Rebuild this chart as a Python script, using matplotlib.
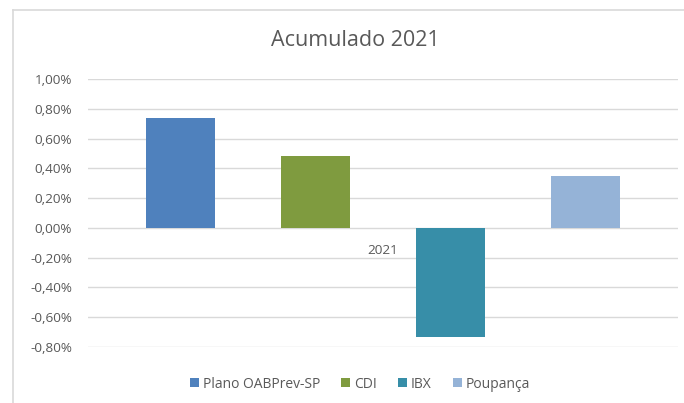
import matplotlib
matplotlib.use("Agg")
import matplotlib.pyplot as plt
from matplotlib.lines import Line2D
from matplotlib.patches import Patch
from matplotlib.ticker import FuncFormatter

title = "Acumulado 2021"
category = "2021"
series = ["Plano OABPrev-SP", "CDI", "IBX", "Poupança"]
values = [0.74, 0.48, -0.73, 0.35]  # percent
colors = ["#4F81BD", "#7F9B3F", "#378EA8", "#95B3D7"]
yticks = [-0.8, -0.6, -0.4, -0.2, 0.0, 0.2, 0.4, 0.6, 0.8, 1.0]

plt.rcParams["font.family"] = ["Open Sans", "DejaVu Sans"]
W, H = 684, 403
fig = plt.figure(figsize=(W / 100, H / 100), dpi=100)
fig.patch.set_facecolor("white")

# chart border (top and left visible)
fig.add_artist(Line2D([12.5 / W, 12.5 / W], [0, 1 - 9.5 / H], transform=fig.transFigure,
                      color="#D9D9D9", lw=1.2))
fig.add_artist(Line2D([12.5 / W, 1], [1 - 9.5 / H, 1 - 9.5 / H], transform=fig.transFigure,
                      color="#D9D9D9", lw=1.2))

ax = fig.add_axes([88 / W, 1 - 347 / H, (678 - 88) / W, (347 - 79) / H])
ax.set_facecolor("none")
offsets = [-1.5, -0.5, 0.5, 1.5]
for off, v, c, s in zip(offsets, values, colors, series):
    ax.bar(off, v, width=0.51, color=c, label=s, zorder=3)

ax.set_xlim(-2.185, 2.185)
ax.set_ylim(min(yticks), max(yticks))
ax.set_yticks(yticks)
ax.yaxis.set_major_formatter(FuncFormatter(lambda v, p: f"{v:.2f}%".replace(".", ",")))
ax.tick_params(axis="y", length=0, labelsize=9.7, labelcolor="#595959", pad=11.5)
ax.set_xticks([])
for sp in ax.spines.values():
    sp.set_visible(False)
ax.grid(axis="y", color="#D9D9D9", lw=1, zorder=0)

ax.annotate(category, xy=(0, 0), xytext=(0, -16), textcoords="offset points",
            ha="center", va="center", fontsize=9.7, color="#595959")

fig.text(355 / W, 1 - 41 / H, title, ha="center", va="center", fontsize=15.5, color="#595959")

handles = [Patch(facecolor=c, edgecolor="none") for c in colors]
fig.legend(handles, series, loc="center", bbox_to_anchor=(360 / W, 1 - 384 / H), ncol=4,
           frameon=False, fontsize=10, labelcolor="#595959", handlelength=0.65,
           handleheight=0.65, handletextpad=0.3, columnspacing=1.5)

fig.savefig("out.png", dpi=100, facecolor="white")
